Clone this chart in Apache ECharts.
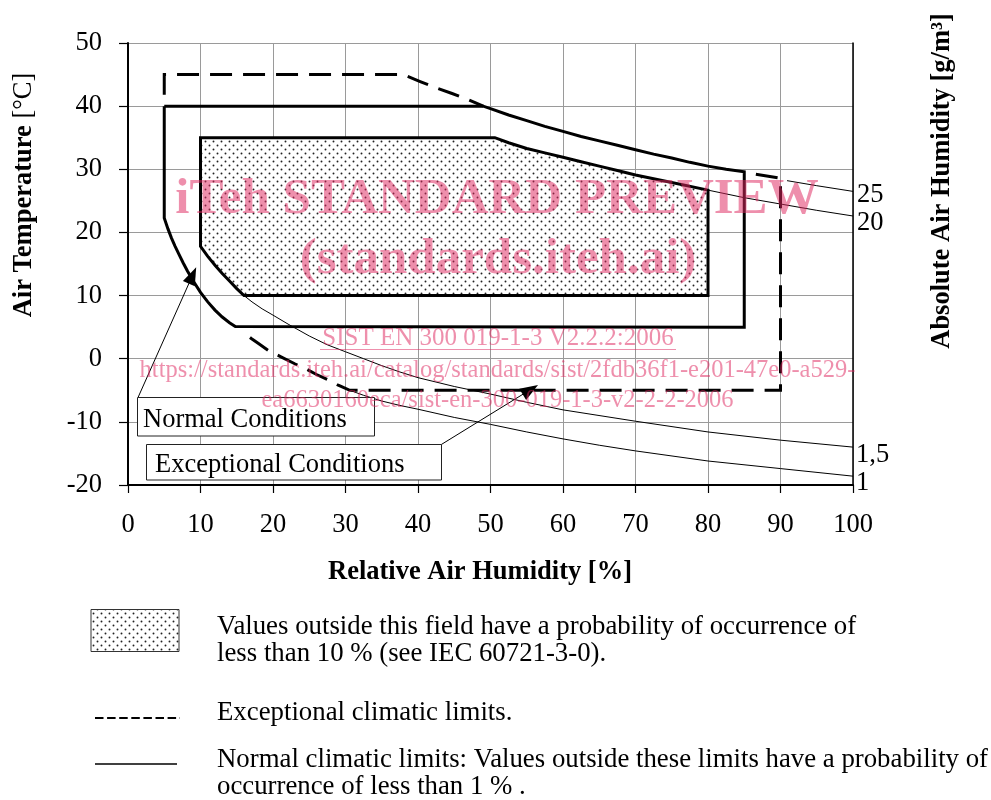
<!DOCTYPE html>
<html><head><meta charset="utf-8">
<script src="https://cdn.jsdelivr.net/npm/echarts@6/dist/echarts.min.js"></script>
<style>html,body{margin:0;padding:0;background:#fff}#c{width:991px;height:800px}</style>
</head><body><div id="c"></div>
<script>
// ---------- data ----------
// Normal climatic limits (solid polygon): relative humidity [%], temperature [°C]
const normalRH = [5, 49, 50, 52.5, 55, 57.5, 60, 62.5, 65, 67.5, 70, 72.5, 75, 77.5, 80, 82.5, 85, 85,
                  14.8, 14, 13, 12, 11, 10, 9, 8.2, 7.6, 7, 6.5, 6, 5.5, 5, 5];
const normalT  = [40, 40, 39.6, 38.6, 37.7, 36.8, 36.0, 35.2, 34.5, 33.8, 33.1, 32.4, 31.8, 31.1, 30.5, 30.0, 29.6, 5,
                  5.1, 5.7, 6.6, 7.7, 9.0, 10.5, 12.3, 13.9, 15.2, 16.6, 17.8, 19.1, 20.6, 22.3, 40];
// Exceptional climatic limits (dashed), upper-left part and main part
const exTopRH = [5, 5, 38, 40.3, 42.5, 44.7, 47, 49];
const exTopT  = [41.8, 45, 45, 43.9, 42.9, 42.0, 41.0, 40];
const exMainRH = [86.6, 90, 90, 30.6, 29, 27.9, 26, 24.7, 23, 21.1, 19.5, 18, 17, 16];
const exMainT  = [29.2, 28.6, -5, -5, -4.2, -3.5, -2.5, -1.7, -0.8, 0.3, 1.2, 2.4, 3.2, 4.1];
// 10 % probability field (dotted)
const fieldRH = [10, 50.6, 52.5, 55, 57.5, 60, 62.5, 65, 67.5, 70, 75, 80, 80, 16, 15, 14, 13, 12, 11, 10, 10];
const fieldT  = [35, 35, 34.2, 33.3, 32.6, 31.9, 31.2, 30.5, 29.8, 29.1, 27.9, 26.7, 10, 10, 11.1, 12.3, 13.5, 14.8, 16.2, 17.8, 35];
// Absolute air humidity lines (thin)
const ah25RH = [90.9, 95, 100];
const ah25T  = [28.2, 27.4, 26.5];
const ah20RH = [80, 85, 90, 95, 100];
const ah20T  = [26.7, 25.5, 24.5, 23.5, 22.6];
const ah15RH = [16, 17.1, 18.5, 20, 22.2, 25, 27.5, 30, 32.5, 35, 37.5, 40, 45, 50, 55, 60, 70, 80, 90, 100];
const ah15T  = [10, 9.0, 7.9, 6.9, 5.4, 3.6, 2.2, 1.1, 0, -1.1, -2.1, -3.0, -4.4, -5.6, -6.9, -8.1, -9.9, -11.6, -12.9, -14.0];
const ah1RH = [30.6, 32.5, 35, 37.5, 40, 45, 50, 55, 60, 65, 70, 80, 90, 100];
const ah1T  = [-5.0, -5.8, -6.7, -7.4, -8.0, -9.3, -10.4, -11.6, -12.7, -13.7, -14.6, -16.2, -17.4, -18.6];
const ahLabels = ['25', '20', '1,5', '1'];
// Annotation arrows: [from RH, from T, to RH, to T]
const normalArrow = [1.4, -6.1, 8.9, 13.2];
const exceptArrow = [43.2, -13.6, 55.5, -4.9];
// Texts
const xTitle = 'Relative Air Humidity [%]';
const yTitleBold = 'Air Temperature ';
const yTitleUnit = '[°C]';
const rightTitle = 'Absolute Air Humidity [g/m³]';
const boxNormal = 'Normal Conditions';
const boxExcept = 'Exceptional Conditions';
const legendField = ['Values outside this field have a probability of occurrence of', 'less than 10 % (see IEC 60721-3-0).'];
const legendExcept = 'Exceptional climatic limits.';
const legendNormal = ['Normal climatic limits: Values outside these limits have a probability of', 'occurrence of less than 1 % .'];
const watermark = ['iTeh STANDARD PREVIEW', '(standards.iteh.ai)', 'SIST EN 300 019-1-3 V2.2.2:2006',
  'https://standards.iteh.ai/catalog/standards/sist/2fdb36f1-e201-47e0-a529-',
  'ea6630160eca/sist-en-300-019-1-3-v2-2-2-2006'];

// ---------- rendering ----------
const F = "'Liberation Serif','Times New Roman',serif";
const FS = 26.5;
const LFS = 26.8;
const PINK = 'rgba(222,40,95,0.52)';
const pair = (xs, ys) => xs.map((x, i) => [x, ys[i]]);

function dotPattern() {
  const c = document.createElement('canvas');
  c.width = 8; c.height = 8;
  const g = c.getContext('2d');
  g.fillStyle = '#fff'; g.fillRect(0, 0, 8, 8);
  g.fillStyle = '#222';
  [[1.5, 1.5], [5.5, 5.5]].forEach(p => { g.beginPath(); g.arc(p[0], p[1], 0.95, 0, Math.PI * 2); g.fill(); });
  return c;
}
const pat = dotPattern();

function lineSeries(name, xs, ys, style, extra) {
  return Object.assign({
    name, type: 'line', data: pair(xs, ys), symbol: 'none', silent: true, animation: false,
    lineStyle: Object.assign({ color: '#000', join: 'miter', cap: 'butt' }, style), z: 5
  }, extra || {});
}
function endLabel(text, off) {
  return { endLabel: { show: true, formatter: text, color: '#000', fontSize: FS, fontFamily: F, distance: 0, offset: off } };
}
function txt(x, y, text, opts) {
  const o = opts || {};
  return {
    type: 'text', x, y, rotation: o.rot || 0, z: o.z || 100, silent: true,
    style: Object.assign({
      text, fill: o.fill || '#000', fontSize: o.size || FS, fontFamily: F, fontWeight: o.weight || 'normal',
      align: o.align || 'left', verticalAlign: 'middle', textAlign: o.align || 'left', textVerticalAlign: 'middle'
    }, o.style || {})
  };
}

const chart = echarts.init(document.getElementById('c'), null, { renderer: 'canvas' });
const axisFont = { fontSize: FS, fontFamily: F, color: '#000' };
chart.setOption({
  animation: false,
  backgroundColor: '#fff',
  grid: { left: 128, right: 138, top: 43, bottom: 315 },
  xAxis: {
    type: 'value', min: 0, max: 100, interval: 10,
    axisLine: { onZero: false, lineStyle: { color: '#000', width: 2 } },
    axisTick: { show: true, length: 8, lineStyle: { color: '#000', width: 1.2 } },
    axisLabel: Object.assign({ margin: 27 }, axisFont),
    splitLine: { show: true, lineStyle: { color: '#9a9a9a', width: 1 } }
  },
  yAxis: [{
    type: 'value', min: -20, max: 50, interval: 10,
    axisLine: { show: true, onZero: false, lineStyle: { color: '#000', width: 2 } },
    axisTick: { show: true, length: 9, lineStyle: { color: '#000', width: 1.2 } },
    axisLabel: Object.assign({ margin: 26 }, axisFont),
    splitLine: { show: true, lineStyle: { color: '#9a9a9a', width: 1 } }
  }, {
    type: 'value', min: -20, max: 50, interval: 10, position: 'right',
    axisLine: { show: true, onZero: false, lineStyle: { color: '#000', width: 1.5 } },
    axisTick: { show: false }, axisLabel: { show: false }, splitLine: { show: false }
  }],
  series: [
    {
      type: 'custom', silent: true, animation: false, z: 3, data: [[0, 0]],
      renderItem: (params, api) => ({
        type: 'polygon',
        shape: { points: fieldRH.map((x, i) => api.coord([x, fieldT[i]])) },
        style: { fill: { image: pat, repeat: 'repeat' }, stroke: '#000', lineWidth: 3, lineJoin: 'miter' }
      })
    },
    lineSeries('normal', normalRH, normalT, { width: 3 }),
    lineSeries('exTop', exTopRH, exTopT, { width: 3, type: [22, 11] }),
    lineSeries('exMain', exMainRH, exMainT, { width: 3, type: [22, 11] }),
    lineSeries('ah25', ah25RH, ah25T, { width: 1 }, endLabel(ahLabels[0], [4, 4])),
    lineSeries('ah20', ah20RH, ah20T, { width: 1 }, endLabel(ahLabels[1], [4, 7])),
    lineSeries('ah15', ah15RH, ah15T, { width: 1 }, endLabel(ahLabels[2], [3, 8])),
    lineSeries('ah1', ah1RH, ah1T, { width: 1 }, Object.assign(endLabel(ahLabels[3], [3, 6.4]), {
      markLine: {
        silent: true, animation: false, symbol: ['none', 'triangle'], symbolSize: [13, 18],
        label: { show: false }, lineStyle: { color: '#000', width: 1, type: 'solid' },
        data: [
          [{ coord: [normalArrow[0], normalArrow[1]] }, { coord: [normalArrow[2], normalArrow[3]] }],
          [{ coord: [exceptArrow[0], exceptArrow[1]] }, { coord: [exceptArrow[2], exceptArrow[3]] }]
        ]
      }
    }))
  ],
  graphic: [
    // axis titles
    txt(480, 572, xTitle, { align: 'center', weight: 'bold' }),
    {
      type: 'text', x: 24, y: 195, rotation: Math.PI / 2, z: 100, silent: true,
      style: {
        text: '{b|' + yTitleBold + '}{r|' + yTitleUnit + '}', fill: '#000',
        align: 'center', verticalAlign: 'middle', textAlign: 'center', textVerticalAlign: 'middle',
        fontSize: FS, fontFamily: F,
        rich: { b: { fontWeight: 'bold', fontSize: FS, fontFamily: F }, r: { fontWeight: 'normal', fontSize: FS, fontFamily: F } }
      }
    },
    txt(942, 181, rightTitle, { align: 'center', weight: 'bold', rot: Math.PI / 2 }),
    // annotation boxes
    { type: 'rect', z: 90, silent: true, shape: { x: 137.5, y: 397.5, width: 237, height: 38.5 }, style: { fill: '#fff', stroke: '#222', lineWidth: 1 } },
    txt(143, 420, boxNormal),
    { type: 'rect', z: 90, silent: true, shape: { x: 146.5, y: 444.5, width: 295, height: 35.5 }, style: { fill: '#fff', stroke: '#222', lineWidth: 1 } },
    txt(155, 465, boxExcept),
    // legend
    { type: 'rect', z: 90, silent: true, shape: { x: 91, y: 609.5, width: 88, height: 42 }, style: { fill: { image: pat, repeat: 'repeat' }, stroke: '#333', lineWidth: 1 } },
    txt(217, 627, legendField[0], { size: LFS }),
    txt(217, 654, legendField[1], { size: LFS }),
    { type: 'line', z: 90, silent: true, shape: { x1: 95, y1: 718, x2: 180, y2: 718 }, style: { stroke: '#000', lineWidth: 2, lineDash: [8.5, 3.6] } },
    txt(217, 712.6, legendExcept, { size: LFS }),
    { type: 'line', z: 90, silent: true, shape: { x1: 95, y1: 764, x2: 177, y2: 764 }, style: { stroke: '#000', lineWidth: 1.7 } },
    txt(217, 760, legendNormal[0], { size: LFS }),
    txt(217, 787, legendNormal[1], { size: LFS }),
    // watermark
    txt(497, 199.4, watermark[0], { align: 'center', weight: 'bold', size: 51, fill: PINK, z: 200 }),
    txt(498, 259.4, watermark[1], { align: 'center', weight: 'bold', size: 51, fill: PINK, z: 200 }),
    txt(498, 338, watermark[2], { align: 'center', size: 25, fill: PINK, z: 200 }),
    { type: 'line', z: 200, silent: true, shape: { x1: 320, y1: 349.5, x2: 676, y2: 349.5 }, style: { stroke: PINK, lineWidth: 1.2 } },
    txt(497.5, 370.7, watermark[3], { align: 'center', size: 24.5, fill: PINK, z: 200 }),
    txt(497.5, 400.7, watermark[4], { align: 'center', size: 24.5, fill: PINK, z: 200 })
  ]
});
</script></body></html>
